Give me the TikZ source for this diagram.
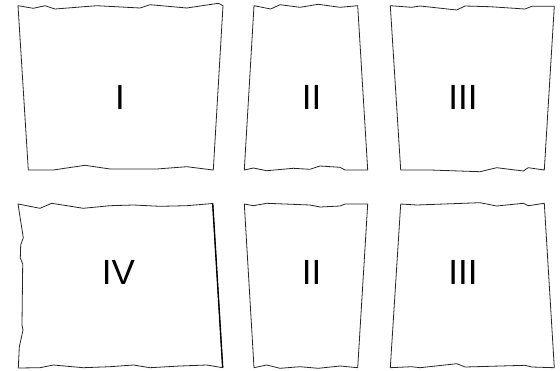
\documentclass[tikz,border=0pt]{standalone}
\usepackage{fontspec}
\setmainfont{Liberation Sans}
\begin{document}
\begin{tikzpicture}[x=1pt,y=-1pt,
  sheet/.style={draw=black!85,line width=0.8pt,line join=round,fill=white},
  lbl/.style={font=\fontsize{35}{35}\selectfont,inner sep=0pt,anchor=center}]
\useasboundingbox (0,0) rectangle (560,370);
\fill[white] (0,0) rectangle (560,370);
% Panel I
\draw[sheet] (18,5.7)--(33.3,8.3)--(45,5.7)--(55,9)--(96.7,5.7)--(140,8)--(150,4.7)--(186.7,8)--(218.3,3.3)--(223,5.7)
  --(213.3,170)--(186.7,166.7)--(156.7,169)--(110,169)--(85,165.3)--(53.3,170)--(28.3,170)--cycle;
% Panel II top
\draw[sheet] (254,5.7)--(270.7,9)--(280,4.7)--(300,7.3)--(318.3,4.3)--(340,7.3)--(357.7,5.7)
  --(367.7,170)--(345,170)--(340,167.3)--(320,166)--(310,169.3)--(293.3,168.3)--(266.7,170.7)--(253.3,168)--(244.3,170)--cycle;
% Panel III top
\draw[sheet] (390.3,5.7)--(411.7,7.3)--(420,6)--(456.7,10)--(465,6)--(490,6.7)--(525,9)--(531.7,6.3)--(554.3,6.3)
  --(544.3,170)--(528.3,167.7)--(523.3,171)--(496.7,167.7)--(480,171.7)--(430,170)--(400.7,170)--cycle;
% Panel IV
\draw[sheet] (18,204)--(40,208.3)--(51.7,203.3)--(83.3,208.3)--(110,205.7)--(133.3,205)--(160,206.3)--(186.7,205.7)--(212.7,203.5)
  --(222.7,367.7)--(206.7,365)--(180,366)--(150,367.7)--(133.3,365)--(110,366.7)--(83.3,367.7)--(53.3,365)--(40,367.7)--(18.3,368)
  --(19.3,347)--(23,330)--(22,325)--(22.7,264)--(20.3,258)--(20.7,245)--(23.3,237.7)--cycle;
\draw[line width=1.4pt,black] (212.7,203.5)--(222.7,367.7);
% Panel II bottom
\draw[sheet] (244.3,204)--(253.3,205.7)--(266.7,203.3)--(310,205)--(320,207)--(340,206)--(345,204)--(367.7,204)
  --(357.7,367.7)--(340,366)--(318.3,368.3)--(300,366.7)--(280,368.3)--(266.7,365)--(254,367.7)--cycle;
% Panel III bottom
\draw[sheet] (400.7,204)--(416.7,205)--(480,202.7)--(496.7,206)--(523.3,203.3)--(528.3,205.7)--(544.3,203.3)
  --(554.3,367.7)--(531.7,367)--(525,365.3)--(490,366.3)--(465,367)--(456.7,363.7)--(420,367.7)--(411.7,366.7)--(390.3,367.7)--cycle;
% Labels
\node[lbl] (l1) at (120,97) {I};
\node[lbl] (l2) at (311.7,97) {II};
\node[lbl] (l3) at (463,97) {III};
\node[lbl] (l4) at (118.5,272) {IV};
\node[lbl] (l5) at (311.7,272) {II};
\node[lbl] (l6) at (463,272) {III};
\end{tikzpicture}
\end{document}
